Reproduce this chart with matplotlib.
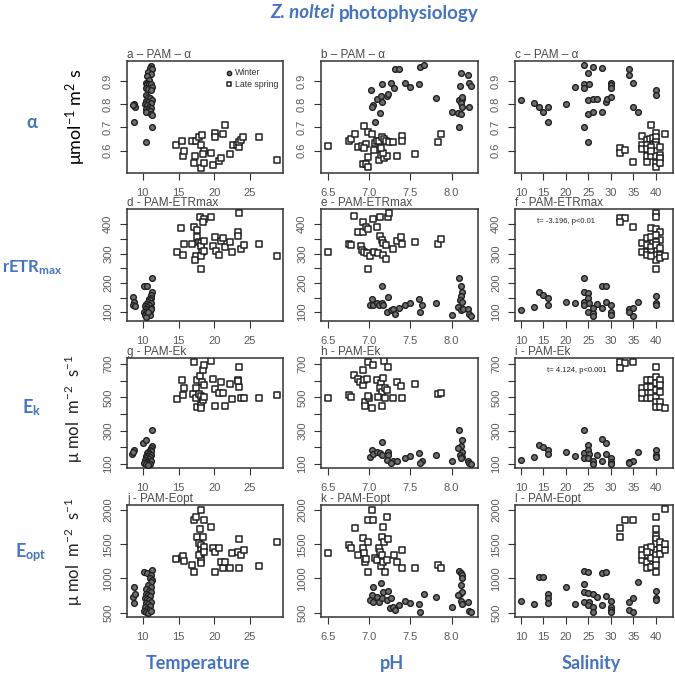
import matplotlib
matplotlib.use("Agg")
import matplotlib.pyplot as plt

plt.rcParams['font.family'] = ['Liberation Sans', 'DejaVu Sans']
plt.rcParams['mathtext.fontset'] = 'custom'
plt.rcParams['mathtext.rm'] = 'Lato'
plt.rcParams['mathtext.bf'] = 'Lato:bold'
plt.rcParams['mathtext.it'] = 'Lato:italic'

BLUE = '#4472c4'

# ---- data: (x, y) per panel and season ----
# a: temperature vs alpha
a_winter = [(8.8, 0.80), (8.9, 0.79), (8.7, 0.795), (8.8, 0.724), (10.4, 0.637), (11.3, 0.70),
            (11.2, 0.965), (11.0, 0.955), (11.3, 0.95), (10.8, 0.94), (11.1, 0.93), (10.6, 0.92),
            (10.9, 0.905), (10.4, 0.89), (10.6, 0.885), (10.9, 0.885), (11.2, 0.885), (11.3, 0.875),
            (10.5, 0.87), (10.8, 0.865), (11.1, 0.86), (10.4, 0.84), (10.7, 0.83), (11.0, 0.825),
            (11.3, 0.82), (10.5, 0.815), (10.8, 0.81), (11.1, 0.805), (10.3, 0.80), (10.6, 0.795),
            (10.9, 0.79), (11.2, 0.785), (10.4, 0.78), (10.7, 0.775), (11.0, 0.77), (10.5, 0.765),
            (11.2, 0.76), (11.3, 0.755)]
a_spring = [(14.7, 0.623), (15.45, 0.64), (15.6, 0.576), (15.8, 0.60), (16.9, 0.64), (17.3, 0.576),
            (17.1, 0.547), (17.5, 0.64), (17.8, 0.657), (18.3, 0.669), (18.2, 0.527), (18.2, 0.626),
            (18.5, 0.60), (18.4, 0.585), (18.6, 0.545), (19.6, 0.59), (19.8, 0.54), (20.1, 0.678),
            (20.1, 0.657), (20.6, 0.557), (21.0, 0.57), (21.2, 0.672), (21.5, 0.71), (22.2, 0.585),
            (22.6, 0.624), (23.2, 0.625), (23.4, 0.617), (23.5, 0.636), (23.8, 0.645), (24.0, 0.66),
            (26.3, 0.66), (28.7, 0.56)]

# b: pH vs alpha
b_winter = [(7.31, 0.953), (7.36, 0.953), (7.62, 0.96), (7.66, 0.967), (7.02, 0.863), (7.04, 0.796),
            (7.03, 0.79), (7.09, 0.824), (7.14, 0.836), (7.16, 0.81), (7.22, 0.834), (7.23, 0.843),
            (7.16, 0.889), (7.27, 0.893), (7.30, 0.871), (7.44, 0.891), (7.49, 0.874), (7.60, 0.886),
            (7.13, 0.764), (7.07, 0.724), (7.81, 0.827), (8.11, 0.934), (8.20, 0.926), (8.21, 0.891),
            (8.23, 0.879), (8.10, 0.88), (8.01, 0.767), (8.09, 0.817), (8.12, 0.824), (8.11, 0.806),
            (8.13, 0.789), (8.08, 0.763), (8.11, 0.756), (8.21, 0.786), (8.09, 0.70), (8.13, 0.831)]
b_spring = [(6.50, 0.62), (6.76, 0.643), (6.78, 0.65), (6.83, 0.671), (6.87, 0.614), (6.91, 0.619),
            (6.96, 0.629), (6.94, 0.61), (6.94, 0.707), (6.98, 0.679), (7.03, 0.67), (6.98, 0.574),
            (6.92, 0.541), (6.96, 0.541), (6.98, 0.529), (7.07, 0.631), (7.06, 0.603), (7.09, 0.643),
            (7.12, 0.641), (7.15, 0.66), (7.18, 0.649), (7.20, 0.643), (7.24, 0.639), (7.29, 0.639),
            (7.12, 0.56), (7.14, 0.581), (7.18, 0.567), (7.21, 0.577), (7.17, 0.589), (7.14, 0.61),
            (7.34, 0.577), (7.40, 0.663), (7.40, 0.641), (7.56, 0.586), (7.83, 0.639), (7.87, 0.67)]

# c: salinity vs alpha
c_winter = [(10, 0.817), (13, 0.806), (14, 0.786), (15, 0.767), (16, 0.79), (16, 0.724), (20, 0.80),
            (22, 0.874), (24, 0.967), (24, 0.889), (24, 0.871), (25.2, 0.889), (25, 0.934), (26, 0.96),
            (25, 0.817), (26, 0.824), (27, 0.824), (25, 0.756), (26, 0.767), (24, 0.70), (25, 0.639),
            (28, 0.956), (28, 0.767), (29, 0.81), (29.2, 0.824), (30, 0.831), (30, 0.891), (30, 0.881),
            (30, 0.871), (34, 0.953), (34, 0.924), (35, 0.891), (35, 0.789), (36, 0.767), (40, 0.863),
            (40, 0.839)]
c_spring = [(32, 0.61), (32, 0.59), (33.1, 0.603), (35, 0.55), (39, 0.71), (37, 0.663), (38, 0.646),
            (38.8, 0.649), (39.4, 0.653), (40, 0.677), (40, 0.66), (40, 0.639), (42, 0.67), (37, 0.624),
            (37, 0.606), (38, 0.624), (38, 0.606), (38, 0.577), (38, 0.553), (39, 0.577), (40, 0.577),
            (40, 0.624), (40, 0.549), (40, 0.529), (41, 0.617), (41, 0.581), (41, 0.567), (41, 0.549),
            (39, 0.617), (39, 0.60)]

# d: temperature vs rETRmax
d_winter = [(8.7, 151), (8.8, 136), (8.6, 125), (8.9, 122), (10.2, 190), (10.6, 188), (11.35, 216),
            (11.3, 170), (11.1, 160), (11.2, 150), (10.9, 145), (11.0, 140), (10.7, 135), (11.2, 130),
            (10.5, 128), (10.9, 125), (10.3, 120), (10.6, 118), (11.1, 115), (10.4, 110), (10.8, 108),
            (11.0, 105), (10.2, 100), (10.5, 98), (10.9, 95), (10.3, 90), (10.6, 88), (11.0, 92),
            (10.4, 85), (11.2, 112), (10.7, 102)]
d_spring = [(14.75, 306), (15.6, 295), (15.4, 386), (15.8, 333), (17.1, 390), (16.9, 333), (17.4, 292),
            (17.3, 278), (17.6, 381), (17.6, 358), (17.8, 341), (18.0, 426), (18.15, 335), (18.2, 326),
            (18.3, 307), (18.2, 290), (18.2, 247), (18.6, 417), (18.4, 406), (18.5, 344), (18.6, 310),
            (19.55, 424), (19.8, 326), (20.1, 358), (20.25, 309), (20.6, 295), (21.0, 344), (21.2, 352),
            (21.5, 322), (22.2, 338), (22.5, 307), (23.3, 372), (23.4, 437), (23.3, 360), (23.7, 315),
            (24.1, 330), (26.3, 332), (28.7, 290)]

# e: pH vs rETRmax
e_winter = [(7.03, 144), (7.01, 123), (7.05, 125), (7.09, 131), (7.12, 125), (7.15, 131), (7.17, 125),
            (7.16, 188), (7.23, 153), (7.21, 99), (7.27, 106), (7.29, 110), (7.31, 94), (7.36, 114),
            (7.43, 123), (7.49, 131), (7.60, 144), (7.64, 123), (7.62, 102), (7.81, 131), (8.01, 91),
            (8.09, 216), (8.11, 190), (8.12, 170), (8.11, 156), (8.10, 142), (8.13, 136), (8.08, 119),
            (8.11, 108), (8.14, 111), (8.20, 111), (8.21, 94), (8.23, 87)]
e_spring = [(6.50, 307), (6.81, 428), (6.76, 333), (6.78, 330), (6.87, 372), (6.92, 372), (6.93, 406),
            (6.96, 390), (6.99, 383), (7.05, 417), (7.13, 426), (7.09, 389), (6.90, 326), (6.91, 313),
            (6.94, 307), (6.97, 301), (7.01, 292), (7.06, 307), (7.11, 301), (7.17, 295), (7.20, 281),
            (6.98, 247), (7.13, 360), (7.15, 347), (7.17, 335), (7.20, 330), (7.23, 426), (7.24, 440),
            (7.29, 315), (7.34, 344), (7.39, 358), (7.40, 333), (7.55, 338), (7.83, 333), (7.87, 349)]

# f: salinity vs rETRmax
f_winter = [(10, 106), (13, 117), (14.1, 170), (15, 159), (16, 148), (16, 125), (20, 136), (22, 131),
            (24, 216), (24, 170), (24, 136), (24, 125), (25, 165), (25, 148), (25.2, 131), (25, 102),
            (26, 97), (26, 88), (26, 114), (27, 128), (28, 190), (29, 188), (28, 114), (29, 136),
            (30, 125), (30, 99), (30, 91), (34, 110), (35, 114), (35, 88), (34, 102), (36, 136),
            (40, 156), (40, 131), (40, 125)]
f_spring = [(32, 420), (33.1, 420), (32.1, 407), (35, 392), (40, 437), (40, 426), (39, 386), (40, 383),
            (41, 375), (41, 347), (37, 335), (37, 307), (38, 352), (38, 330), (38, 307), (39, 358),
            (39, 324), (39, 307), (40, 364), (40, 341), (40, 330), (40, 295), (40, 278), (40, 247),
            (41, 318), (41, 295), (41, 284), (42, 290), (38, 295), (39, 290)]

# g: temperature vs Ek
g_winter = [(8.55, 158), (8.8, 184), (8.7, 170), (10.1, 224), (10.4, 244), (11.35, 304), (11.3, 210),
            (11.2, 195), (11.0, 185), (11.1, 175), (10.8, 170), (10.6, 165), (10.9, 158), (11.2, 155),
            (10.4, 150), (10.7, 145), (11.0, 140), (10.5, 135), (10.9, 130), (10.3, 125), (10.6, 120),
            (11.1, 118), (10.4, 112), (10.8, 108), (10.2, 105), (10.5, 100), (11.0, 100), (10.7, 96)]
g_spring = [(14.75, 490), (15.45, 604), (15.7, 554), (15.6, 514), (17.1, 714), (17.0, 518), (17.4, 494),
            (17.45, 558), (17.6, 604), (17.8, 518), (17.6, 444), (18.0, 630), (18.15, 508), (18.2, 454),
            (18.15, 434), (18.3, 594), (18.4, 664), (18.6, 694), (18.5, 574), (18.4, 484), (18.5, 504),
            (19.55, 718), (19.8, 610), (20.1, 550), (20.1, 450), (20.6, 524), (21.0, 594), (21.2, 524),
            (21.5, 448), (22.2, 578), (22.5, 490), (23.4, 680), (23.3, 604), (23.4, 564), (23.3, 598),
            (23.7, 494), (24.1, 494), (26.3, 498), (28.7, 514)]

# h: pH vs Ek
h_winter = [(7.03, 184), (7.01, 144), (7.05, 158), (7.09, 170), (7.13, 164), (7.15, 154), (7.16, 230),
            (7.23, 174), (7.23, 154), (7.21, 124), (7.29, 118), (7.27, 104), (7.34, 118), (7.43, 138),
            (7.49, 148), (7.60, 164), (7.64, 118), (7.62, 104), (7.81, 154), (8.01, 118), (8.09, 304),
            (8.12, 244), (8.11, 210), (8.12, 174), (8.10, 154), (8.13, 144), (8.08, 194), (8.11, 134),
            (8.20, 118), (8.21, 104), (8.23, 98)]
h_spring = [(6.50, 494), (6.75, 514), (6.78, 504), (6.81, 634), (6.86, 610), (6.89, 594), (6.92, 574),
            (6.94, 604), (6.93, 664), (6.98, 714), (6.97, 610), (6.95, 474), (6.95, 450), (7.00, 494),
            (6.98, 510), (7.03, 434), (7.05, 694), (7.09, 604), (7.14, 584), (7.13, 554), (7.15, 534),
            (7.11, 504), (7.17, 614), (7.19, 554), (7.21, 544), (7.19, 494), (7.15, 448), (7.18, 718),
            (7.23, 680), (7.29, 498), (7.34, 594), (7.39, 570), (7.40, 494), (7.56, 578), (7.83, 518),
            (7.87, 524)]

# i: salinity vs Ek
i_winter = [(10, 124), (13, 140), (14, 214), (15, 204), (16, 184), (16, 158), (20, 170), (22, 150),
            (24, 304), (24, 164), (24, 134), (25, 214), (25, 184), (25.2, 158), (25, 134), (26, 118),
            (26, 98), (27, 154), (28, 248), (29, 228), (28, 118), (29, 158), (30, 134), (30, 110),
            (30, 98), (34, 110), (35, 118), (34, 104), (36, 174), (40, 184), (40, 154), (40, 144)]
i_spring = [(32, 714), (33.1, 704), (32, 674), (35, 714), (40, 684), (37, 554), (37, 494), (38, 604),
            (38, 564), (38, 524), (38, 494), (39, 604), (39, 564), (39, 524), (39, 494), (40, 624),
            (40, 584), (40, 544), (40, 504), (40, 474), (40, 444), (41, 604), (41, 574), (41, 534),
            (41, 474), (41, 444), (42, 434), (37, 524)]

# j: temperature vs Eopt
j_winter = [(8.7, 734), (8.9, 768), (8.8, 646), (8.8, 880), (10.2, 1099), (10.6, 1075), (11.35, 1123),
            (11.2, 1050), (11.0, 1000), (11.3, 980), (11.1, 950), (10.8, 900), (11.2, 880), (10.5, 850),
            (10.9, 820), (11.2, 800), (10.4, 780), (10.7, 760), (11.0, 740), (10.3, 720), (10.6, 700),
            (10.9, 680), (11.2, 660), (10.4, 640), (10.7, 620), (11.0, 600), (10.3, 580), (10.6, 560),
            (10.9, 540), (10.2, 520), (10.5, 505), (10.8, 500), (11.1, 520)]
j_spring = [(14.7, 1279), (15.45, 1294), (15.6, 1333), (15.8, 1255), (16.9, 1196), (17.2, 1099),
            (17.1, 1854), (17.4, 1903), (17.6, 1610), (17.8, 1513), (18.0, 1722), (18.15, 1489),
            (18.2, 1416), (18.15, 1352), (18.4, 1610), (18.2, 1270), (18.15, 1221), (18.6, 1854),
            (18.5, 1464), (18.2, 2000), (19.55, 1756), (19.8, 1450), (20.1, 1382), (20.6, 1450),
            (20.1, 1099), (21.0, 1245), (21.2, 1158), (21.5, 1235), (22.2, 1158), (22.5, 1367),
            (23.4, 1571), (23.3, 1391), (23.7, 1343), (24.1, 1416), (23.4, 1148), (26.3, 1182),
            (28.7, 1537), (17.8, 1343), (18.5, 1391)]

# k: pH vs Eopt
k_winter = [(7.05, 880), (7.03, 758), (7.01, 685), (7.05, 651), (7.09, 734), (7.12, 661), (7.15, 720),
            (7.14, 938), (7.17, 807), (7.23, 817), (7.21, 685), (7.27, 710), (7.25, 563), (7.29, 588),
            (7.31, 539), (7.36, 612), (7.43, 670), (7.49, 636), (7.60, 627), (7.62, 505), (7.66, 768),
            (7.81, 734), (8.01, 588), (8.09, 1109), (8.11, 1075), (8.13, 1050), (8.11, 904), (8.10, 768),
            (8.13, 797), (8.08, 758), (8.11, 670), (8.13, 622), (8.20, 661), (8.21, 524), (8.23, 515),
            (8.12, 1002)]
k_spring = [(6.50, 1377), (6.75, 1489), (6.78, 1440), (6.83, 1732), (6.87, 1343), (6.92, 1450),
            (6.93, 1586), (6.94, 1377), (6.95, 1245), (6.96, 1279), (6.98, 1528), (6.98, 1099),
            (6.98, 1854), (7.05, 1854), (7.03, 2000), (7.07, 1294), (7.09, 1270), (7.12, 1450),
            (7.13, 1391), (7.15, 1343), (7.14, 1182), (7.17, 1245), (7.19, 1099), (7.17, 1756),
            (7.15, 1610), (7.18, 1537), (7.23, 1576), (7.21, 1903), (7.21, 1270), (7.30, 1343),
            (7.34, 1245), (7.40, 1158), (7.40, 1416), (7.56, 1158), (7.83, 1196), (7.87, 1158)]

# l: salinity vs Eopt
l_winter = [(10, 671), (13, 627), (14, 1016), (15, 1016), (16, 768), (16, 720), (16, 646), (20, 880),
            (22, 627), (24, 1109), (25, 1099), (24, 914), (24, 797), (24, 661), (25, 787), (25.2, 661),
            (25, 612), (26, 768), (26, 588), (26, 505), (27, 734), (28, 1075), (29, 1099), (28, 612),
            (29, 748), (30, 671), (30, 588), (30, 539), (30, 505), (34, 661), (35, 720), (34, 539),
            (35, 505), (36, 943), (40, 817), (40, 720), (40, 685)]
l_spring = [(32, 1742), (32, 1601), (33.1, 1854), (35, 1854), (42, 2015), (40, 1903), (40, 1722),
            (40, 1625), (40, 1576), (37, 1416), (37, 1270), (38, 1450), (38, 1343), (38, 1245),
            (38, 1158), (39, 1391), (39, 1294), (39, 1172), (40, 1498), (40, 1416), (40, 1343),
            (40, 1270), (40, 1196), (40, 1099), (41, 1528), (41, 1440), (41, 1352), (42, 1416),
            (42, 1498), (37, 1343), (39, 1464), (38, 1391)]

panel_titles = ['a \u2013 PAM \u2013 \u03b1', 'b \u2013 PAM \u2013 \u03b1', 'c \u2013 PAM \u2013 \u03b1',
                'd - PAM-ETRmax', 'e - PAM-ETRmax', 'f - PAM-ETRmax',
                'g - PAM-Ek', 'h - PAM-Ek', 'i - PAM-Ek',
                'j - PAM-Eopt', 'k - PAM-Eopt', 'l - PAM-Eopt']
x_ticks = [[10, 15, 20, 25], [6.5, 7.0, 7.5, 8.0], [10, 15, 20, 25, 30, 35, 40]]
x_ticklabels = [['10', '15', '20', '25'], ['6.5', '7.0', '7.5', '8.0'],
                ['10', '15', '20', '25', '30', '35', '40']]
y_ticks = [[0.6, 0.7, 0.8, 0.9], [100, 150, 200, 250, 300, 350, 400],
           [100, 200, 300, 400, 500, 600, 700], [500, 1000, 1500, 2000]]
y_ticklabels = [['0.6', '0.7', '0.8', '0.9'], ['100', '', '200', '', '300', '', '400'],
                ['100', '', '300', '', '500', '', '700'], ['500', '1000', '1500', '2000']]
x_lims = [(7.8, 29.6), (6.415, 8.32), (8.7, 43.8)]
y_lims = [(0.504, 0.986), (70, 452), (76, 736), (437, 2073)]
row_labels = [r'$\mathbf{\alpha}$', r'rETR$_{\mathbf{max}}$', r'E$_{\mathbf{k}}$', r'E$_{\mathbf{opt}}$']
col_labels = ['Temperature', 'pH', 'Salinity']
stats_text = {5: ('t= -3.196, p<0.01', 0.14), 8: ('t= 4.124, p<0.001', 0.20)}

panels = [(a_winter, a_spring), (b_winter, b_spring), (c_winter, c_spring),
          (d_winter, d_spring), (e_winter, e_spring), (f_winter, f_spring),
          (g_winter, g_spring), (h_winter, h_spring), (i_winter, i_spring),
          (j_winter, j_spring), (k_winter, k_spring), (l_winter, l_spring)]

W, H = 675, 679
fig = plt.figure(figsize=(W / 100, H / 100), dpi=100)

col_left = [127, 321, 515]
col_width = [156, 157, 158]
row_top = [61, 209, 358, 505]
row_height = [112, 112, 110, 112]

for idx, (winter, spring) in enumerate(panels):
    r, c = divmod(idx, 3)
    ax = fig.add_axes([col_left[c] / W, 1 - (row_top[r] + row_height[r]) / H,
                       col_width[c] / W, row_height[r] / H])
    wx, wy = zip(*winter)
    sx, sy = zip(*spring)
    ax.scatter(wx, wy, s=17, marker='o', facecolor='#6e6e6e', edgecolor='#202020',
               linewidth=1.0, label='Winter', zorder=3)
    ax.scatter(sx, sy, s=13, marker='s', facecolor='white', edgecolor='#202020',
               linewidth=1.1, label='Late spring', zorder=3)
    ax.set_xlim(*x_lims[c])
    ax.set_ylim(*y_lims[r])
    ax.set_xticks(x_ticks[c])
    ax.set_xticklabels(x_ticklabels[c])
    ax.set_yticks(y_ticks[r])
    ax.set_yticklabels(y_ticklabels[r], rotation=90, va='center')
    ax.tick_params(length=5, width=0.8, color='#333333', labelcolor='#5a5a5a', labelsize=8)
    ax.tick_params(axis='x', pad=6)
    ax.tick_params(axis='y', pad=5)
    for sp in ax.spines.values():
        sp.set_color('#333333')
        sp.set_linewidth(1.1)
    ax.set_title(panel_titles[idx], loc='left', fontsize=8.5, color='#4a4a4a', pad=1.5)
    if idx in stats_text:
        txt, tx = stats_text[idx]
        ax.text(tx, 0.885, txt, transform=ax.transAxes, fontsize=5.5,
                color='#222222', va='center')
    if idx == 0:
        ax.legend(loc='upper left', bbox_to_anchor=(0.58, 1.0), frameon=False, fontsize=6.3,
                  handletextpad=0.1, labelspacing=0.3, borderpad=0.3, handlelength=1.1,
                  markerscale=0.75, labelcolor='#333333')

# figure title
renderer = fig.canvas.get_renderer()
t1 = fig.text(270 / W, 1 - 13 / H, 'Z. noltei ', fontsize=13.5, fontweight='bold', style='italic',
              family='Lato', color=BLUE, ha='left', va='center')
w1 = t1.get_window_extent(renderer).width
fig.text((270 + w1) / W, 1 - 13 / H, 'photophysiology', fontsize=13.5, fontweight='bold',
         family='Lato', color=BLUE, ha='left', va='center')

# row labels
row_y = [123, 268, 408, 553]
row_x = [32, 32, 32, 31]
row_size = [13, 12, 13, 13]
for lab, yy, xx, fs in zip(row_labels, row_y, row_x, row_size):
    fig.text(xx / W, 1 - yy / H, lab, fontsize=fs, fontweight='bold', family='Lato',
             color=BLUE, ha='center', va='center')

# y axis unit labels
fig.text(76 / W, 1 - 117 / H, r'$\mathrm{\mu}$mol$^{\mathrm{-1}}$ m$^{\mathrm{2}}$ s', fontsize=13,
         rotation=90, ha='center', va='center', family='Lato', color='black')
for yy in [409, 552]:
    fig.text(74 / W, 1 - yy / H, r'$\mathrm{\mu}$ mol  m$^{\mathrm{-2}}$  s$^{\mathrm{-1}}$',
             fontsize=12, rotation=90, ha='center', va='center', family='Lato', color='#222222')

# column labels
for lab, xx in zip(col_labels, [198, 392, 591]):
    fig.text(xx / W, 1 - 663 / H, lab, fontsize=13, fontweight='bold', family='Lato',
             color=BLUE, ha='center', va='center')

fig.savefig('out.png', dpi=100)
